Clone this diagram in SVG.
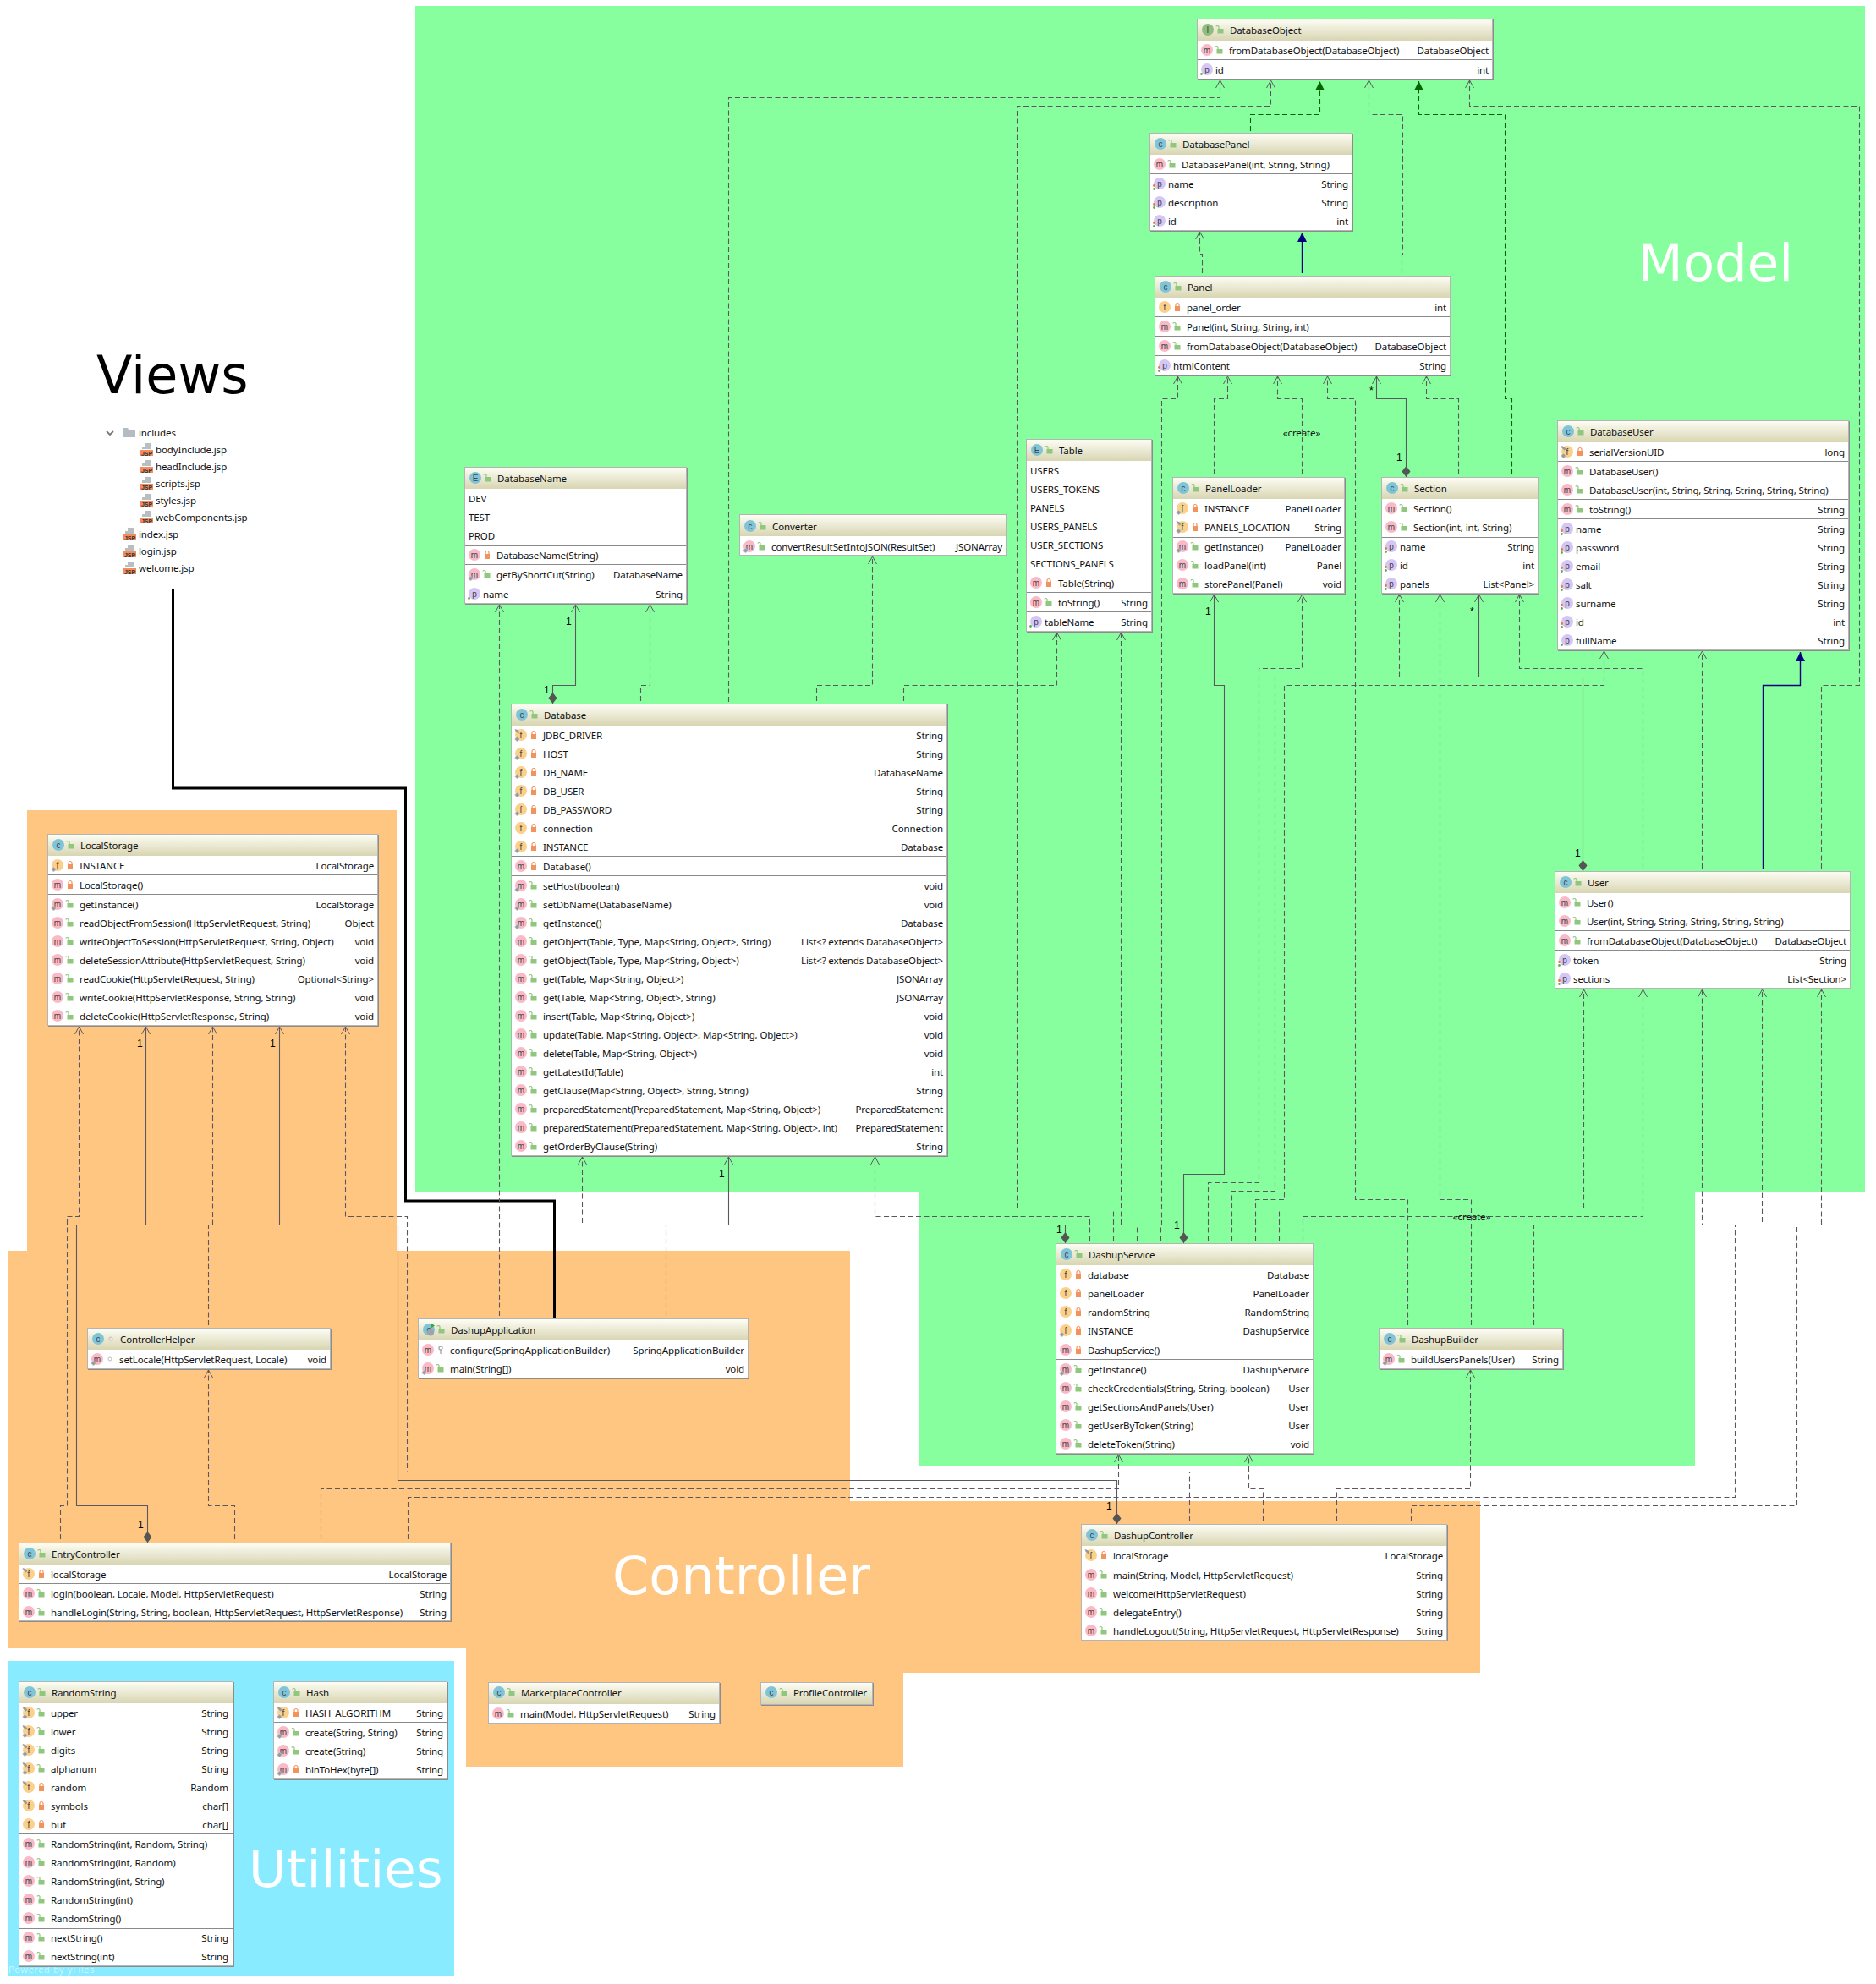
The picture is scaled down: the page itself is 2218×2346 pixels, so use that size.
<svg xmlns="http://www.w3.org/2000/svg" width="2218" height="2346" viewBox="0 0 2218 2346">
<style>
text{font-family:"Noto Sans","Open Sans",sans-serif;font-size:11.500px;letter-spacing:-.12px;fill:#111}
.r{text-anchor:end}
.ic{font-family:"Liberation Sans",sans-serif;font-size:10px;letter-spacing:0;text-anchor:middle;fill:#444}
.T{font-family:"DejaVu Sans",sans-serif;font-size:61px;letter-spacing:0;fill:#fff}
.n{font-family:"Liberation Sans",sans-serif;font-size:12px;letter-spacing:0;fill:#000}
.s{fill:#8c8c8c}
.b{fill:#fff;stroke:#b4b4b4}
.h{fill:url(#hg)}
.l{stroke:#8a8a8a;stroke-width:1;fill:none}
#conn polyline{fill:none;stroke:#5c5660;stroke-width:1.1}
#conn .d{stroke-dasharray:6 3.5;marker-end:url(#oa)}
#conn .a{marker-end:url(#oa)}
#conn .o{marker-start:url(#dm)}
#conn polyline.g{stroke:#006400;stroke-dasharray:6 3.5;marker-end:url(#tg)}
#conn polyline.u{stroke:#000080;stroke-width:1.4;marker-end:url(#tb)}
</style>
<defs>
<linearGradient id="hg" x1="0" y1="0" x2="0" y2="1"><stop offset="0" stop-color="#fdfdf4"/><stop offset="1" stop-color="#d8d5b2"/></linearGradient>
<marker id="oa" markerUnits="userSpaceOnUse" markerWidth="14" markerHeight="14" refX="10" refY="6" orient="auto"><path d="M1 1L10 6L1 11" fill="none" stroke="#5c5660" stroke-width="1"/></marker>
<marker id="dm" markerUnits="userSpaceOnUse" markerWidth="16" markerHeight="12" refX="14" refY="6" orient="auto-start-reverse"><path d="M1 6L7.500 1L14 6L7.500 11Z" fill="#555"/></marker>
<marker id="tg" markerUnits="userSpaceOnUse" markerWidth="14" markerHeight="14" refX="12" refY="6.500" orient="auto"><path d="M1 1L12 6.500L1 12Z" fill="#006400"/></marker>
<marker id="tb" markerUnits="userSpaceOnUse" markerWidth="14" markerHeight="14" refX="12" refY="6.500" orient="auto"><path d="M1 1L12 6.500L1 12Z" fill="#000080"/></marker>
<g id="lg"><path d="M-3.500 -1h7v5.500h-7z" fill="#8fc77c"/><path d="M-3.500 -1v-2.500a1.800 1.800 0 0 0-3.200 0" transform="translate(1.500 0)" fill="none" stroke="#8fc77c" stroke-width="1.200"/></g>
<g id="lo"><path d="M-3 -1h6v6h-6z" fill="#f4925c"/><path d="M-2 -1v-1.500a2 2 0 0 1 4 0v1.500" fill="none" stroke="#f4925c" stroke-width="1.200"/></g>
<g id="st"><path d="M-7.500 5l3-3 3 3-3 3z" fill="#9a9a9a" stroke="#ddd" stroke-width=".6"/></g>
<g id="fi"><path d="M-7.500 -7l3.500 1 2.500 3-2 1.500-3-3z" fill="#9a9a9a"/></g>
<g id="m"><circle r="7" fill="#f9b9c7"/><text class="ic" y="3.500">m</text></g>
<g id="f"><circle r="7" fill="#fbd08b"/><text class="ic" y="3.500">f</text></g>
<g id="p"><circle r="7" fill="#d5c6f6"/><text class="ic" y="3.500">p</text></g>
<g id="hc"><circle r="7" fill="#7fc4d9"/><text class="ic" y="3.500">c</text><use href="#lg" x="15"/></g>
<g id="he"><circle r="7" fill="#7fc4d9"/><text class="ic" y="3.500">E</text><use href="#lg" x="15"/></g>
<g id="hi"><circle r="7" fill="#8fbd7d"/><text class="ic" y="3.500">I</text><use href="#lg" x="15"/></g>
<g id="ha"><circle r="7" fill="#7fc4d9"/><text class="ic" y="3.500">c</text><path d="M2 -8l5 3.500-5 3.500z" fill="#3fa63f"/><circle cx="2" cy="3.500" r="4" fill="#9aa5ad"/><use href="#lg" x="15"/></g>
<g id="mg"><use href="#m"/><use href="#lg" x="15"/></g>
<g id="mo"><use href="#m"/><use href="#lo" x="15"/></g>
<g id="msg"><use href="#m"/><use href="#st"/><use href="#lg" x="15"/></g>
<g id="mso"><use href="#m"/><use href="#st"/><use href="#lo" x="15"/></g>
<g id="msp"><use href="#m"/><use href="#st"/><circle cx="15" r="2" fill="none" stroke="#bbb"/></g>
<g id="mk"><use href="#m"/><circle cx="15" cy="-2" r="2" fill="none" stroke="#aaa" stroke-width="1.400"/><path d="M15 0v5" stroke="#aaa" stroke-width="1.400"/></g>
<g id="fo"><use href="#f"/><use href="#lo" x="15"/></g>
<g id="fso"><use href="#f"/><use href="#st"/><use href="#lo" x="15"/></g>
<g id="ffo"><use href="#f"/><use href="#fi"/><use href="#lo" x="15"/></g>
<g id="fsf"><use href="#f"/><use href="#fi"/><use href="#st"/><use href="#lo" x="15"/></g>
<g id="fsg"><use href="#f"/><use href="#fi"/><use href="#st"/><use href="#lg" x="15"/></g>
<g id="p1"><use href="#p"/><circle cx="-6.500" cy="5.500" r="1.400" fill="#55b04f"/></g>
<g id="p2"><use href="#p"/><circle cx="-6.500" cy="2.500" r="1.400" fill="#f2703a"/><circle cx="-6.500" cy="6.500" r="1.400" fill="#55b04f"/></g>
<g id="jsp"><path d="M5 0h7v7h-7zM0 7h2M2 4h3v3h-3z" fill="#b8bec2"/><rect y="8" width="15" height="7" fill="#f58a5c"/><text class="ic" x="7.500" y="14.500" style="font-size:7px;font-weight:bold;fill:#333">JSP</text></g>
</defs>

<g id="regions">
<rect x="491" y="7" width="1714" height="1402" fill="#88ff9e"/>
<rect x="1086" y="1409" width="918" height="325" fill="#88ff9e"/>
<path d="M32 958H469V1479H1005V1775H1750V1978H1068V2089H551V1949H10V1479H32Z" fill="#ffc682"/>
<rect x="9" y="1964" width="528" height="373" fill="#88ebff"/>
<text class="T" x="1937" y="332">Model</text>
<text class="T" x="114" y="465" style="fill:#000;font-size:62px">Views</text>
<text class="T" x="724" y="1885" style="font-size:62px">Controller</text>
<text class="T" x="294" y="2231">Utilities</text>
<text x="10" y="2333" style="font-size:11px;fill:#fff;fill-opacity:.55;letter-spacing:.6px">Powered by yFiles</text>
</g>

<g id="views-tree">
<path d="M126 510l4 4 4-4" fill="none" stroke="#777" stroke-width="1.800"/>
<path d="M146 506h5l1 2h8v9h-14z" fill="#b4bcc2"/>
<text x="164" y="516">includes</text>
<use href="#jsp" x="166" y="524"/><text x="184" y="536">bodyInclude.jsp</text>
<use href="#jsp" x="166" y="544"/><text x="184" y="556">headInclude.jsp</text>
<use href="#jsp" x="166" y="564"/><text x="184" y="576">scripts.jsp</text>
<use href="#jsp" x="166" y="584"/><text x="184" y="596">styles.jsp</text>
<use href="#jsp" x="166" y="604"/><text x="184" y="616">webComponents.jsp</text>
<use href="#jsp" x="146" y="624"/><text x="164" y="636">index.jsp</text>
<use href="#jsp" x="146" y="644"/><text x="164" y="656">login.jsp</text>
<use href="#jsp" x="146" y="664"/><text x="164" y="676">welcome.jsp</text>
</g>

<polyline id="views-link" points="204.500,697 204.500,932 479.500,932 479.500,1420 655.500,1420 655.500,1558" fill="none" stroke="#000" stroke-width="3"/>

<g id="conn">
<polyline class="d" points="861.500,830 861.500,115.500 1442.500,115.500 1442.500,95"/>
<polyline class="d" points="1316.500,1467 1316.500,1428.500 1202.500,1428.500 1202.500,125.500 1502.500,125.500 1502.500,95"/>
<polyline class="g" points="1478.500,155 1478.500,135.500 1560.500,135.500 1560.500,96"/>
<polyline class="d" points="1657.500,323 1657.500,300.500 1658.500,300.500 1658.500,135.500 1618.500,135.500 1618.500,95"/>
<polyline class="g" points="1787.500,561 1787.500,471.500 1779.500,471.500 1779.500,135.500 1677.500,135.500 1677.500,96"/>
<polyline class="d" points="2153.500,1027 2153.500,810.500 2198.500,810.500 2198.500,125.500 1737.500,125.500 1737.500,95"/>
<polyline class="d" points="1421.500,323 1421.500,300.500 1418.500,300.500 1418.500,274"/>
<polyline class="u" points="1539.500,323 1539.500,275"/>
<polyline class="d" points="1372.500,1467 1372.500,1448.500 1373.500,1448.500 1373.500,471.500 1392.500,471.500 1392.500,445"/>
<polyline class="d" points="1435.500,561 1435.500,471.500 1451.500,471.500 1451.500,445"/>
<polyline class="d" points="1539.500,561 1539.500,471.500 1510.500,471.500 1510.500,445"/>
<polyline class="d" points="1664.500,1567 1664.500,1418.500 1602.500,1418.500 1602.500,471.500 1569.500,471.500 1569.500,445"/>
<polyline class="a o" points="1662.500,564 1662.500,471.500 1627.500,471.500 1627.500,445"/>
<polyline class="d" points="1724.500,561 1724.500,471.500 1686.500,471.500 1686.500,445"/>
<polyline class="a o" points="653.500,832 653.500,810.500 680.500,810.500 680.500,715"/>
<polyline class="d" points="757.500,829 757.500,810.500 768.500,810.500 768.500,715"/>
<polyline class="d" points="965.500,829 965.500,810.500 1031.500,810.500 1031.500,658"/>
<polyline class="d" points="1068.500,829 1068.500,810.500 1249.500,810.500 1249.500,748"/>
<polyline class="d" points="1344.500,1467 1344.500,1448.500 1325.500,1448.500 1325.500,748"/>
<polyline class="a o" points="1399.500,1470 1399.500,1388.500 1447.500,1388.500 1447.500,810.500 1435.500,810.500 1435.500,703"/>
<polyline class="d" points="1428.500,1467 1428.500,1398.500 1488.500,1398.500 1488.500,790.500 1539.500,790.500 1539.500,703"/>
<polyline class="d" points="1456.500,1467 1456.500,1408.500 1507.500,1408.500 1507.500,800.500 1654.500,800.500 1654.500,703"/>
<polyline class="d" points="1739.500,1567 1739.500,1418.500 1702.500,1418.500 1702.500,703"/>
<polyline class="a o" points="1871.500,1030 1871.500,800.500 1748.500,800.500 1748.500,703"/>
<polyline class="d" points="1942.500,1027 1942.500,790.500 1796.500,790.500 1796.500,703"/>
<polyline class="d" points="1484.500,1467 1484.500,1418.500 1518.500,1418.500 1518.500,810.500 1896.500,810.500 1896.500,770"/>
<polyline class="d" points="2012.500,1027 2012.500,770"/>
<polyline class="u" points="2084.500,1027 2084.500,810.500 2128.500,810.500 2128.500,771"/>
<polyline class="a o" points="1259.500,1470 1259.500,1448.500 861.500,1448.500 861.500,1368"/>
<polyline class="d" points="1288.500,1467 1288.500,1438.500 1034.500,1438.500 1034.500,1368"/>
<polyline class="d" points="1512.500,1467 1512.500,1428.500 1872.500,1428.500 1872.500,1170"/>
<polyline class="d" points="1540.500,1467 1540.500,1438.500 1942.500,1438.500 1942.500,1170"/>
<polyline class="d" points="1813.500,1567 1813.500,1448.500 2012.500,1448.500 2012.500,1170"/>
<polyline class="d" points="482.500,1820 482.500,1770.500 2051.500,1770.500 2051.500,1448.500 2083.500,1448.500 2083.500,1170"/>
<polyline class="d" points="1668.500,1799 1668.500,1780.500 2124.500,1780.500 2124.500,1448.500 2153.500,1448.500 2153.500,1170"/>
<polyline class="d" points="1580.500,1799 1580.500,1760.500 1738.500,1760.500 1738.500,1620"/>
<polyline class="d" points="1493.500,1799 1493.500,1760.500 1476.500,1760.500 1476.500,1720"/>
<polyline class="d" points="379.500,1820 379.500,1760.500 1322.500,1760.500 1322.500,1720"/>
<polyline class="d" points="1406.500,1799 1406.500,1740.500 481.500,1740.500 481.500,1438.500 408.500,1438.500 408.500,1214"/>
<polyline class="a o" points="1320.500,1802 1320.500,1750.500 470.500,1750.500 470.500,1448.500 330.500,1448.500 330.500,1214"/>
<polyline class="d" points="71.500,1820 71.500,1780.500 79.500,1780.500 79.500,1438.500 93.500,1438.500 93.500,1214"/>
<polyline class="a o" points="174.500,1824 174.500,1780.500 90.500,1780.500 90.500,1448.500 172.500,1448.500 172.500,1214"/>
<polyline class="d" points="277.500,1820 277.500,1780.500 246.500,1780.500 246.500,1620"/>
<polyline class="d" points="246.500,1567 246.500,1448.500 251.500,1448.500 251.500,1214"/>
<polyline class="d" points="590.500,1556 590.500,715"/>
<polyline class="d" points="787.500,1556 787.500,1448.500 688.500,1448.500 688.500,1368"/>
</g>
<g id="conn-labels">
<text class="n" x="669" y="739">1</text><text class="n" x="643" y="820">1</text>
<text class="n" x="1249" y="1458">1</text><text class="n" x="850" y="1392">1</text>
<text class="n" x="1388" y="1453">1</text><text class="n" x="1308" y="1785">1</text>
<text class="n" x="1425" y="727">1</text><text class="n" x="1651" y="545">1</text>
<text class="n" x="1862" y="1013">1</text><text class="n" x="162" y="1238">1</text>
<text class="n" x="319" y="1238">1</text><text class="n" x="163" y="1807">1</text>
<text class="n" x="1619" y="466">*</text><text class="n" x="1738" y="727">*</text>
<text x="1539" y="516" style="text-anchor:middle">«create»</text>
<text x="1740" y="1443" style="text-anchor:middle">«create»</text>
</g>

<g id="DatabaseObject" transform="translate(1415 0)">
<rect class="s" x="1" y="23" width="350" height="72"/><rect class="b" x=".5" y="22.500" width="349" height="71"/><rect class="h" x="1" y="23" width="348" height="25"/>
<use href="#hi" x="13" y="35"/><text x="39" y="40">DatabaseObject</text>
<use href="#mg" x="12" y="59"/><text x="38" y="64">fromDatabaseObject(DatabaseObject)</text><text class="r" x="345" y="64">DatabaseObject</text>
<path class="l" d="M1 70.500H349"/>
<use href="#p1" x="12" y="82"/><text x="22" y="87">id</text><text class="r" x="345" y="87">int</text>
</g>

<g id="DatabasePanel" transform="translate(1359 0)">
<rect class="s" x="1" y="158" width="240" height="116"/><rect class="b" x=".5" y="157.500" width="239" height="115"/><rect class="h" x="1" y="158" width="238" height="25"/>
<use href="#hc" x="13" y="170"/><text x="39" y="175">DatabasePanel</text>
<use href="#mg" x="12" y="194"/><text x="38" y="199">DatabasePanel(int, String, String)</text>
<path class="l" d="M1 205.500H239"/>
<use href="#p2" x="12" y="217"/><text x="22" y="222">name</text><text class="r" x="235" y="222">String</text>
<use href="#p2" x="12" y="239"/><text x="22" y="244">description</text><text class="r" x="235" y="244">String</text>
<use href="#p2" x="12" y="261"/><text x="22" y="266">id</text><text class="r" x="235" y="266">int</text>
</g>

<g id="Panel" transform="translate(1365 0)">
<rect class="s" x="1" y="327" width="350" height="118"/><rect class="b" x=".5" y="326.500" width="349" height="117"/><rect class="h" x="1" y="327" width="348" height="25"/>
<use href="#hc" x="13" y="339"/><text x="39" y="344">Panel</text>
<use href="#fo" x="12" y="363"/><text x="38" y="368">panel_order</text><text class="r" x="345" y="368">int</text>
<path class="l" d="M1 374.500H349"/>
<use href="#mg" x="12" y="386"/><text x="38" y="391">Panel(int, String, String, int)</text>
<path class="l" d="M1 397.500H349"/>
<use href="#mg" x="12" y="409"/><text x="38" y="414">fromDatabaseObject(DatabaseObject)</text><text class="r" x="345" y="414">DatabaseObject</text>
<path class="l" d="M1 420.500H349"/>
<use href="#p2" x="12" y="432"/><text x="22" y="437">htmlContent</text><text class="r" x="345" y="437">String</text>
</g>

<g id="Table" transform="translate(1213 0)">
<rect class="s" x="1" y="520" width="149" height="228"/><rect class="b" x=".5" y="519.500" width="148" height="227"/><rect class="h" x="1" y="520" width="147" height="25"/>
<use href="#he" x="13" y="532"/><text x="39" y="537">Table</text>
<text x="5" y="561">USERS</text><text x="5" y="583">USERS_TOKENS</text><text x="5" y="605">PANELS</text><text x="5" y="627">USERS_PANELS</text><text x="5" y="649">USER_SECTIONS</text><text x="5" y="671">SECTIONS_PANELS</text>
<path class="l" d="M1 677.500H148"/>
<use href="#mo" x="12" y="689"/><text x="38" y="694">Table(String)</text>
<path class="l" d="M1 700.500H148"/>
<use href="#mg" x="12" y="712"/><text x="38" y="717">toString()</text><text class="r" x="144" y="717">String</text>
<path class="l" d="M1 723.500H148"/>
<use href="#p1" x="12" y="735"/><text x="22" y="740">tableName</text><text class="r" x="144" y="740">String</text>
</g>

<g id="PanelLoader" transform="translate(1386 0)">
<rect class="s" x="1" y="565" width="204" height="138"/><rect class="b" x=".5" y="564.500" width="203" height="137"/><rect class="h" x="1" y="565" width="202" height="25"/>
<use href="#hc" x="13" y="577"/><text x="39" y="582">PanelLoader</text>
<use href="#fso" x="12" y="601"/><text x="38" y="606">INSTANCE</text><text class="r" x="200" y="606">PanelLoader</text>
<use href="#fsf" x="12" y="623"/><text x="38" y="628">PANELS_LOCATION</text><text class="r" x="200" y="628">String</text>
<path class="l" d="M1 635.500H203"/>
<use href="#msg" x="12" y="646"/><text x="38" y="651">getInstance()</text><text class="r" x="200" y="651">PanelLoader</text>
<use href="#mg" x="12" y="668"/><text x="38" y="673">loadPanel(int)</text><text class="r" x="200" y="673">Panel</text>
<use href="#mg" x="12" y="690"/><text x="38" y="695">storePanel(Panel)</text><text class="r" x="200" y="695">void</text>
</g>

<g id="Section" transform="translate(1633 0)">
<rect class="s" x="1" y="565" width="186" height="138"/><rect class="b" x=".5" y="564.500" width="185" height="137"/><rect class="h" x="1" y="565" width="184" height="25"/>
<use href="#hc" x="13" y="577"/><text x="39" y="582">Section</text>
<use href="#mg" x="12" y="601"/><text x="38" y="606">Section()</text>
<use href="#mg" x="12" y="623"/><text x="38" y="628">Section(int, int, String)</text>
<path class="l" d="M1 635.500H185"/>
<use href="#p2" x="12" y="646"/><text x="22" y="651">name</text><text class="r" x="181" y="651">String</text>
<use href="#p2" x="12" y="668"/><text x="22" y="673">id</text><text class="r" x="181" y="673">int</text>
<use href="#p2" x="12" y="690"/><text x="22" y="695">panels</text><text class="r" x="181" y="695">List&lt;Panel&gt;</text>
</g>

<g id="DatabaseUser" transform="translate(1841 0)">
<rect class="s" x="1" y="498" width="345" height="272"/><rect class="b" x=".5" y="497.500" width="344" height="271"/><rect class="h" x="1" y="498" width="343" height="25"/>
<use href="#hc" x="13" y="510"/><text x="39" y="515">DatabaseUser</text>
<use href="#fsf" x="12" y="534"/><text x="38" y="539">serialVersionUID</text><text class="r" x="340" y="539">long</text>
<path class="l" d="M1 545.500H344"/>
<use href="#mg" x="12" y="557"/><text x="38" y="562">DatabaseUser()</text>
<use href="#mg" x="12" y="579"/><text x="38" y="584">DatabaseUser(int, String, String, String, String, String)</text>
<path class="l" d="M1 590.500H344"/>
<use href="#mg" x="12" y="602"/><text x="38" y="607">toString()</text><text class="r" x="340" y="607">String</text>
<path class="l" d="M1 613.500H344"/>
<use href="#p2" x="12" y="625"/><text x="22" y="630">name</text><text class="r" x="340" y="630">String</text>
<use href="#p2" x="12" y="647"/><text x="22" y="652">password</text><text class="r" x="340" y="652">String</text>
<use href="#p2" x="12" y="669"/><text x="22" y="674">email</text><text class="r" x="340" y="674">String</text>
<use href="#p2" x="12" y="691"/><text x="22" y="696">salt</text><text class="r" x="340" y="696">String</text>
<use href="#p2" x="12" y="713"/><text x="22" y="718">surname</text><text class="r" x="340" y="718">String</text>
<use href="#p2" x="12" y="735"/><text x="22" y="740">id</text><text class="r" x="340" y="740">int</text>
<use href="#p1" x="12" y="757"/><text x="22" y="762">fullName</text><text class="r" x="340" y="762">String</text>
</g>

<g id="DatabaseName" transform="translate(549 0)">
<rect class="s" x="1" y="553" width="263" height="162"/><rect class="b" x=".5" y="552.500" width="262" height="161"/><rect class="h" x="1" y="553" width="261" height="25"/>
<use href="#he" x="13" y="565"/><text x="39" y="570">DatabaseName</text>
<text x="5" y="594">DEV</text><text x="5" y="616">TEST</text><text x="5" y="638">PROD</text>
<path class="l" d="M1 645.500H262"/>
<use href="#mo" x="12" y="656"/><text x="38" y="661">DatabaseName(String)</text>
<path class="l" d="M1 667.500H262"/>
<use href="#msg" x="12" y="679"/><text x="38" y="684">getByShortCut(String)</text><text class="r" x="258" y="684">DatabaseName</text>
<path class="l" d="M1 690.500H262"/>
<use href="#p1" x="12" y="702"/><text x="22" y="707">name</text><text class="r" x="258" y="707">String</text>
</g>

<g id="Converter" transform="translate(874 0)">
<rect class="s" x="1" y="609" width="316" height="49"/><rect class="b" x=".5" y="608.500" width="315" height="48"/><rect class="h" x="1" y="609" width="314" height="25"/>
<use href="#hc" x="13" y="622"/><text x="39" y="627">Converter</text>
<use href="#msg" x="12" y="646"/><text x="38" y="651">convertResultSetIntoJSON(ResultSet)</text><text class="r" x="311" y="651">JSONArray</text>
</g>

<g id="Database" transform="translate(604 0)">
<rect class="s" x="1" y="833" width="516" height="535"/><rect class="b" x=".5" y="832.500" width="515" height="534"/><rect class="h" x="1" y="833" width="514" height="25"/>
<use href="#hc" x="13" y="845"/><text x="39" y="850">Database</text>
<use href="#fsf" x="12" y="869"/><text x="38" y="874">JDBC_DRIVER</text><text class="r" x="511" y="874">String</text>
<use href="#fso" x="12" y="891"/><text x="38" y="896">HOST</text><text class="r" x="511" y="896">String</text>
<use href="#fso" x="12" y="913"/><text x="38" y="918">DB_NAME</text><text class="r" x="511" y="918">DatabaseName</text>
<use href="#fso" x="12" y="935"/><text x="38" y="940">DB_USER</text><text class="r" x="511" y="940">String</text>
<use href="#fso" x="12" y="957"/><text x="38" y="962">DB_PASSWORD</text><text class="r" x="511" y="962">String</text>
<use href="#fo" x="12" y="979"/><text x="38" y="984">connection</text><text class="r" x="511" y="984">Connection</text>
<use href="#fso" x="12" y="1001"/><text x="38" y="1006">INSTANCE</text><text class="r" x="511" y="1006">Database</text>
<path class="l" d="M1 1012.500H515"/>
<use href="#mo" x="12" y="1024"/><text x="38" y="1029">Database()</text>
<path class="l" d="M1 1035.500H515"/>
<use href="#msg" x="12" y="1047"/><text x="38" y="1052">setHost(boolean)</text><text class="r" x="511" y="1052">void</text>
<use href="#msg" x="12" y="1069"/><text x="38" y="1074">setDbName(DatabaseName)</text><text class="r" x="511" y="1074">void</text>
<use href="#msg" x="12" y="1091"/><text x="38" y="1096">getInstance()</text><text class="r" x="511" y="1096">Database</text>
<use href="#mg" x="12" y="1113"/><text x="38" y="1118">getObject(Table, Type, Map&lt;String, Object&gt;, String)</text><text class="r" x="511" y="1118">List&lt;? extends DatabaseObject&gt;</text>
<use href="#mg" x="12" y="1135"/><text x="38" y="1140">getObject(Table, Type, Map&lt;String, Object&gt;)</text><text class="r" x="511" y="1140">List&lt;? extends DatabaseObject&gt;</text>
<use href="#mg" x="12" y="1157"/><text x="38" y="1162">get(Table, Map&lt;String, Object&gt;)</text><text class="r" x="511" y="1162">JSONArray</text>
<use href="#mg" x="12" y="1179"/><text x="38" y="1184">get(Table, Map&lt;String, Object&gt;, String)</text><text class="r" x="511" y="1184">JSONArray</text>
<use href="#mg" x="12" y="1201"/><text x="38" y="1206">insert(Table, Map&lt;String, Object&gt;)</text><text class="r" x="511" y="1206">void</text>
<use href="#mg" x="12" y="1223"/><text x="38" y="1228">update(Table, Map&lt;String, Object&gt;, Map&lt;String, Object&gt;)</text><text class="r" x="511" y="1228">void</text>
<use href="#mg" x="12" y="1245"/><text x="38" y="1250">delete(Table, Map&lt;String, Object&gt;)</text><text class="r" x="511" y="1250">void</text>
<use href="#mg" x="12" y="1267"/><text x="38" y="1272">getLatestId(Table)</text><text class="r" x="511" y="1272">int</text>
<use href="#mg" x="12" y="1289"/><text x="38" y="1294">getClause(Map&lt;String, Object&gt;, String, String)</text><text class="r" x="511" y="1294">String</text>
<use href="#mg" x="12" y="1311"/><text x="38" y="1316">preparedStatement(PreparedStatement, Map&lt;String, Object&gt;)</text><text class="r" x="511" y="1316">PreparedStatement</text>
<use href="#mg" x="12" y="1333"/><text x="38" y="1338">preparedStatement(PreparedStatement, Map&lt;String, Object&gt;, int)</text><text class="r" x="511" y="1338">PreparedStatement</text>
<use href="#mg" x="12" y="1355"/><text x="38" y="1360">getOrderByClause(String)</text><text class="r" x="511" y="1360">String</text>
</g>

<g id="User" transform="translate(1838 0)">
<rect class="s" x="1" y="1031" width="350" height="139"/><rect class="b" x=".5" y="1030.500" width="349" height="138"/><rect class="h" x="1" y="1031" width="348" height="25"/>
<use href="#hc" x="13" y="1043"/><text x="39" y="1048">User</text>
<use href="#mg" x="12" y="1067"/><text x="38" y="1072">User()</text>
<use href="#mg" x="12" y="1089"/><text x="38" y="1094">User(int, String, String, String, String, String)</text>
<path class="l" d="M1 1100.500H349"/>
<use href="#mg" x="12" y="1112"/><text x="38" y="1117">fromDatabaseObject(DatabaseObject)</text><text class="r" x="345" y="1117">DatabaseObject</text>
<path class="l" d="M1 1123.500H349"/>
<use href="#p2" x="12" y="1135"/><text x="22" y="1140">token</text><text class="r" x="345" y="1140">String</text>
<use href="#p2" x="12" y="1157"/><text x="22" y="1162">sections</text><text class="r" x="345" y="1162">List&lt;Section&gt;</text>
</g>

<g id="LocalStorage" transform="translate(56 0)">
<rect class="s" x="1" y="987" width="391" height="227"/><rect class="b" x=".5" y="986.500" width="390" height="226"/><rect class="h" x="1" y="987" width="389" height="25"/>
<use href="#hc" x="13" y="999"/><text x="39" y="1004">LocalStorage</text>
<use href="#fso" x="12" y="1023"/><text x="38" y="1028">INSTANCE</text><text class="r" x="386" y="1028">LocalStorage</text>
<path class="l" d="M1 1034.500H390"/>
<use href="#mo" x="12" y="1046"/><text x="38" y="1051">LocalStorage()</text>
<path class="l" d="M1 1057.500H390"/>
<use href="#msg" x="12" y="1069"/><text x="38" y="1074">getInstance()</text><text class="r" x="386" y="1074">LocalStorage</text>
<use href="#mg" x="12" y="1091"/><text x="38" y="1096">readObjectFromSession(HttpServletRequest, String)</text><text class="r" x="386" y="1096">Object</text>
<use href="#mg" x="12" y="1113"/><text x="38" y="1118">writeObjectToSession(HttpServletRequest, String, Object)</text><text class="r" x="386" y="1118">void</text>
<use href="#mg" x="12" y="1135"/><text x="38" y="1140">deleteSessionAttribute(HttpServletRequest, String)</text><text class="r" x="386" y="1140">void</text>
<use href="#mg" x="12" y="1157"/><text x="38" y="1162">readCookie(HttpServletRequest, String)</text><text class="r" x="386" y="1162">Optional&lt;String&gt;</text>
<use href="#mg" x="12" y="1179"/><text x="38" y="1184">writeCookie(HttpServletResponse, String, String)</text><text class="r" x="386" y="1184">void</text>
<use href="#mg" x="12" y="1201"/><text x="38" y="1206">deleteCookie(HttpServletResponse, String)</text><text class="r" x="386" y="1206">void</text>
</g>

<g id="ControllerHelper" transform="translate(103 0)">
<rect class="s" x="1" y="1571" width="288" height="49"/><rect class="b" x=".5" y="1570.500" width="287" height="48"/><rect class="h" x="1" y="1571" width="286" height="25"/>
<circle cx="13" cy="1583" r="7" fill="#7fc4d9"/><text class="ic" x="13" y="1586.500">c</text><circle cx="28" cy="1583" r="2" fill="none" stroke="#bbb"/><text x="39" y="1588">ControllerHelper</text>
<use href="#msp" x="12" y="1607"/><text x="38" y="1612">setLocale(HttpServletRequest, Locale)</text><text class="r" x="283" y="1612">void</text>
</g>

<g id="DashupApplication" transform="translate(494 0)">
<rect class="s" x="1" y="1560" width="391" height="71"/><rect class="b" x=".5" y="1559.500" width="390" height="70"/><rect class="h" x="1" y="1560" width="389" height="25"/>
<use href="#ha" x="13" y="1572"/><text x="39" y="1577">DashupApplication</text>
<use href="#mk" x="12" y="1596"/><text x="38" y="1601">configure(SpringApplicationBuilder)</text><text class="r" x="386" y="1601">SpringApplicationBuilder</text>
<use href="#msg" x="12" y="1618"/><text x="38" y="1623">main(String[])</text><text class="r" x="386" y="1623">void</text>
</g>

<g id="EntryController" transform="translate(22 0)">
<rect class="s" x="1" y="1825" width="511" height="93"/><rect class="b" x=".5" y="1824.500" width="510" height="92"/><rect class="h" x="1" y="1825" width="509" height="25"/>
<use href="#hc" x="13" y="1837"/><text x="39" y="1842">EntryController</text>
<use href="#ffo" x="12" y="1861"/><text x="38" y="1866">localStorage</text><text class="r" x="506" y="1866">LocalStorage</text>
<path class="l" d="M1 1872.500H510"/>
<use href="#mg" x="12" y="1884"/><text x="38" y="1889">login(boolean, Locale, Model, HttpServletRequest)</text><text class="r" x="506" y="1889">String</text>
<use href="#mg" x="12" y="1906"/><text x="38" y="1911">handleLogin(String, String, boolean, HttpServletRequest, HttpServletResponse)</text><text class="r" x="506" y="1911">String</text>
</g>

<g id="DashupService" transform="translate(1248 0)">
<rect class="s" x="1" y="1471" width="305" height="249"/><rect class="b" x=".5" y="1470.500" width="304" height="248"/><rect class="h" x="1" y="1471" width="303" height="25"/>
<use href="#hc" x="13" y="1483"/><text x="39" y="1488">DashupService</text>
<use href="#fo" x="12" y="1507"/><text x="38" y="1512">database</text><text class="r" x="300" y="1512">Database</text>
<use href="#fo" x="12" y="1529"/><text x="38" y="1534">panelLoader</text><text class="r" x="300" y="1534">PanelLoader</text>
<use href="#fo" x="12" y="1551"/><text x="38" y="1556">randomString</text><text class="r" x="300" y="1556">RandomString</text>
<use href="#fso" x="12" y="1573"/><text x="38" y="1578">INSTANCE</text><text class="r" x="300" y="1578">DashupService</text>
<path class="l" d="M1 1584.500H304"/>
<use href="#mo" x="12" y="1596"/><text x="38" y="1601">DashupService()</text>
<path class="l" d="M1 1607.500H304"/>
<use href="#msg" x="12" y="1619"/><text x="38" y="1624">getInstance()</text><text class="r" x="300" y="1624">DashupService</text>
<use href="#mg" x="12" y="1641"/><text x="38" y="1646">checkCredentials(String, String, boolean)</text><text class="r" x="300" y="1646">User</text>
<use href="#mg" x="12" y="1663"/><text x="38" y="1668">getSectionsAndPanels(User)</text><text class="r" x="300" y="1668">User</text>
<use href="#mg" x="12" y="1685"/><text x="38" y="1690">getUserByToken(String)</text><text class="r" x="300" y="1690">User</text>
<use href="#mg" x="12" y="1707"/><text x="38" y="1712">deleteToken(String)</text><text class="r" x="300" y="1712">void</text>
</g>

<g id="DashupBuilder" transform="translate(1630 0)">
<rect class="s" x="1" y="1571" width="218" height="49"/><rect class="b" x=".5" y="1570.500" width="217" height="48"/><rect class="h" x="1" y="1571" width="216" height="25"/>
<use href="#hc" x="13" y="1583"/><text x="39" y="1588">DashupBuilder</text>
<use href="#msg" x="12" y="1607"/><text x="38" y="1612">buildUsersPanels(User)</text><text class="r" x="213" y="1612">String</text>
</g>

<g id="DashupController" transform="translate(1278 0)">
<rect class="s" x="1" y="1803" width="433" height="138"/><rect class="b" x=".5" y="1802.500" width="432" height="137"/><rect class="h" x="1" y="1803" width="431" height="25"/>
<use href="#hc" x="13" y="1815"/><text x="39" y="1820">DashupController</text>
<use href="#ffo" x="12" y="1839"/><text x="38" y="1844">localStorage</text><text class="r" x="428" y="1844">LocalStorage</text>
<path class="l" d="M1 1850.500H432"/>
<use href="#mg" x="12" y="1862"/><text x="38" y="1867">main(String, Model, HttpServletRequest)</text><text class="r" x="428" y="1867">String</text>
<use href="#mg" x="12" y="1884"/><text x="38" y="1889">welcome(HttpServletRequest)</text><text class="r" x="428" y="1889">String</text>
<use href="#mg" x="12" y="1906"/><text x="38" y="1911">delegateEntry()</text><text class="r" x="428" y="1911">String</text>
<use href="#mg" x="12" y="1928"/><text x="38" y="1933">handleLogout(String, HttpServletRequest, HttpServletResponse)</text><text class="r" x="428" y="1933">String</text>
</g>

<g id="RandomString" transform="translate(22 0)">
<rect class="s" x="1" y="1989" width="254" height="337"/><rect class="b" x=".5" y="1988.500" width="253" height="336"/><rect class="h" x="1" y="1989" width="252" height="25"/>
<use href="#hc" x="13" y="2001"/><text x="39" y="2006">RandomString</text>
<use href="#fsg" x="12" y="2025"/><text x="38" y="2030">upper</text><text class="r" x="248" y="2030">String</text>
<use href="#fsg" x="12" y="2047"/><text x="38" y="2052">lower</text><text class="r" x="248" y="2052">String</text>
<use href="#fsg" x="12" y="2069"/><text x="38" y="2074">digits</text><text class="r" x="248" y="2074">String</text>
<use href="#fsg" x="12" y="2091"/><text x="38" y="2096">alphanum</text><text class="r" x="248" y="2096">String</text>
<use href="#ffo" x="12" y="2113"/><text x="38" y="2118">random</text><text class="r" x="248" y="2118">Random</text>
<use href="#ffo" x="12" y="2135"/><text x="38" y="2140">symbols</text><text class="r" x="248" y="2140">char[]</text>
<use href="#fo" x="12" y="2157"/><text x="38" y="2162">buf</text><text class="r" x="248" y="2162">char[]</text>
<path class="l" d="M1 2168.500H253"/>
<use href="#mg" x="12" y="2180"/><text x="38" y="2185">RandomString(int, Random, String)</text>
<use href="#mg" x="12" y="2202"/><text x="38" y="2207">RandomString(int, Random)</text>
<use href="#mg" x="12" y="2224"/><text x="38" y="2229">RandomString(int, String)</text>
<use href="#mg" x="12" y="2246"/><text x="38" y="2251">RandomString(int)</text>
<use href="#mg" x="12" y="2268"/><text x="38" y="2273">RandomString()</text>
<path class="l" d="M1 2280.500H253"/>
<use href="#mg" x="12" y="2291"/><text x="38" y="2296">nextString()</text><text class="r" x="248" y="2296">String</text>
<use href="#mg" x="12" y="2313"/><text x="38" y="2318">nextString(int)</text><text class="r" x="248" y="2318">String</text>
</g>

<g id="Hash" transform="translate(323 0)">
<rect class="s" x="1" y="1989" width="206" height="116"/><rect class="b" x=".5" y="1988.500" width="205" height="115"/><rect class="h" x="1" y="1989" width="204" height="25"/>
<use href="#hc" x="13" y="2001"/><text x="39" y="2006">Hash</text>
<use href="#fsf" x="12" y="2025"/><text x="38" y="2030">HASH_ALGORITHM</text><text class="r" x="201" y="2030">String</text>
<path class="l" d="M1 2036.500H205"/>
<use href="#msg" x="12" y="2048"/><text x="38" y="2053">create(String, String)</text><text class="r" x="201" y="2053">String</text>
<use href="#msg" x="12" y="2070"/><text x="38" y="2075">create(String)</text><text class="r" x="201" y="2075">String</text>
<use href="#mso" x="12" y="2092"/><text x="38" y="2097">binToHex(byte[])</text><text class="r" x="201" y="2097">String</text>
</g>

<g id="MarketplaceController" transform="translate(577 0)">
<rect class="s" x="1" y="1990" width="274" height="49"/><rect class="b" x=".5" y="1989.500" width="273" height="48"/><rect class="h" x="1" y="1990" width="272" height="25"/>
<use href="#hc" x="13" y="2001"/><text x="39" y="2006">MarketplaceController</text>
<use href="#mg" x="12" y="2026"/><text x="38" y="2031">main(Model, HttpServletRequest)</text><text class="r" x="269" y="2031">String</text>
</g>

<g id="ProfileController" transform="translate(899 0)">
<rect class="s" x="1" y="1990" width="133" height="27"/><rect class="b" x=".5" y="1989.500" width="132" height="26"/><rect class="h" x="1" y="1990" width="131" height="25"/>
<use href="#hc" x="13" y="2001"/><text x="39" y="2006">ProfileController</text>
</g>
</svg>
